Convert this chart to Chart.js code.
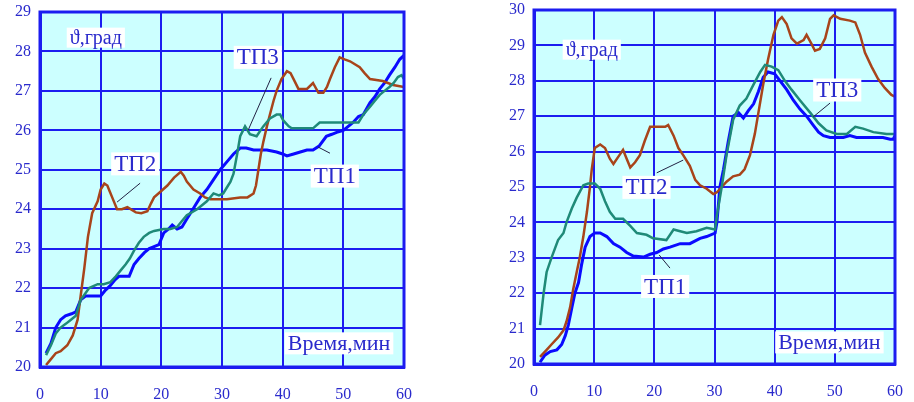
<!DOCTYPE html>
<html>
<head>
<meta charset="utf-8">
<script src="https://cdn.jsdelivr.net/npm/chart.js@4"></script>
<style>
  body { margin: 0; background: #fff; }
  .wrap { position: absolute; top: 0; height: 402px; }
</style>
</head>
<body>
<div class="wrap" style="left:0;width:414px"><canvas id="left"></canvas></div>
<div class="wrap" style="left:494px;width:420px"><canvas id="right"></canvas></div>
<script>
// time (min), temperature (deg) pairs
const left_tp1 = [[1,20.35],[1.8,20.6],[2.6,21.0],[3.4,21.2],[4.2,21.3],[5.2,21.35],[5.9,21.4],[6.7,21.7],[7.5,21.8],[9,21.8],[10,21.8],[10.8,21.95],[11.5,22.05],[12.3,22.2],[13,22.3],[14.7,22.3],[15.5,22.6],[16.3,22.75],[17.2,22.9],[18,23.0],[18.8,23.05],[19.6,23.1],[20.4,23.4],[21.2,23.5],[21.8,23.6],[22.6,23.5],[23.4,23.55],[24.2,23.75],[24.8,23.9],[25.6,24.1],[26.4,24.3],[27.5,24.5],[28.6,24.75],[29.7,25.0],[30.8,25.2],[31.9,25.4],[33,25.55],[34,25.55],[35.2,25.5],[36.3,25.5],[37.4,25.5],[39,25.45],[40,25.4],[40.7,25.35],[41.8,25.4],[42.9,25.45],[44,25.5],[45,25.5],[46,25.6],[47.2,25.85],[48.1,25.9],[48.9,25.95],[50,26.0],[51.6,26.2],[52.5,26.35],[53.3,26.4],[54.4,26.7],[55.2,26.85],[56,27.05],[56.8,27.2],[57.6,27.4],[58.5,27.6],[59.3,27.8],[60,27.9]];
const left_tp2 = [[1,20.05],[1.8,20.2],[2.6,20.35],[3.4,20.4],[4.5,20.55],[5.4,20.8],[6.2,21.2],[6.7,21.8],[7.3,22.5],[7.9,23.3],[8.6,23.9],[9.5,24.2],[10,24.5],[10.6,24.65],[11.1,24.6],[11.5,24.45],[11.9,24.3],[12.7,24.0],[13.5,24.0],[14.4,24.05],[15.8,23.92],[16.7,23.9],[17.7,23.95],[18.3,24.15],[18.8,24.3],[19.9,24.45],[21,24.6],[22.1,24.8],[23.2,24.95],[23.7,24.85],[24.2,24.7],[25.3,24.5],[26.4,24.4],[27.2,24.3],[28.1,24.25],[30.8,24.25],[33,24.3],[34.2,24.3],[35.2,24.4],[35.6,24.6],[36,25.0],[36.4,25.4],[36.8,25.7],[37.4,26.1],[37.9,26.4],[38.5,26.75],[39,27.0],[39.8,27.3],[40.7,27.5],[41.3,27.45],[41.8,27.3],[42.6,27.05],[44,27.05],[45,27.2],[45.9,26.95],[46.7,26.95],[47.3,27.1],[47.8,27.3],[48.6,27.6],[49.4,27.85],[50.2,27.8],[51.1,27.75],[52.7,27.6],[53.5,27.45],[54.4,27.3],[56.5,27.25],[58.2,27.15],[60,27.1]];
const left_tp3 = [[1,20.3],[1.8,20.55],[2.6,20.85],[3.4,21.0],[4.3,21.1],[5.1,21.2],[5.9,21.3],[6.7,21.7],[7.4,21.85],[8.1,22.0],[9.5,22.1],[10.5,22.1],[11.6,22.15],[12.5,22.3],[13.3,22.45],[14.1,22.6],[14.8,22.75],[15.5,22.95],[16.3,23.15],[17.1,23.3],[18,23.4],[18.8,23.45],[20.4,23.5],[21.5,23.5],[22.6,23.55],[23.4,23.7],[24.2,23.85],[25.9,24.0],[27.5,24.2],[28.6,24.4],[29.5,24.35],[30.2,24.4],[30.8,24.55],[31.4,24.7],[31.9,24.9],[32.5,25.4],[33,25.85],[33.8,26.1],[34.6,25.9],[35.7,25.85],[36.8,26.1],[37.9,26.3],[39,26.4],[39.6,26.4],[40.1,26.25],[41,26.1],[41.5,26.05],[43,26.05],[45,26.05],[46.1,26.2],[48,26.2],[50,26.2],[52.5,26.2],[53.3,26.4],[54.4,26.6],[55.2,26.75],[56,26.9],[56.8,27.0],[57.6,27.1],[58.3,27.2],[59,27.35],[59.6,27.4],[60,27.3]];

const right_tp1 = [[1,20.05],[1.8,20.25],[2.7,20.35],[3.8,20.4],[4.6,20.55],[5.2,20.8],[5.7,21.1],[6.3,21.6],[6.8,22.0],[7.4,22.3],[7.9,22.8],[8.5,23.3],[9.3,23.6],[10.1,23.7],[11,23.7],[12.1,23.6],[13.2,23.4],[14.3,23.3],[15.4,23.15],[16.5,23.05],[18.2,23.02],[19.3,23.1],[20.4,23.15],[21.5,23.25],[22.6,23.3],[24.3,23.4],[25.9,23.4],[27.6,23.55],[28.7,23.6],[30.1,23.7],[30.4,24.0],[30.9,25.0],[31.5,25.5],[32.3,26.3],[33.1,27.0],[34,27.1],[34.8,26.95],[35.6,27.15],[36.5,27.35],[37.3,27.7],[38.1,28.1],[38.9,28.25],[40,28.2],[40.9,28.0],[42,27.75],[43.1,27.45],[44.2,27.2],[45.3,27.0],[46.4,26.75],[47.3,26.55],[48.1,26.45],[49.2,26.4],[51.4,26.4],[52.5,26.45],[53.6,26.4],[55.8,26.4],[58,26.4],[59.2,26.35],[59.7,26.35],[60,26.45]];
const right_tp2 = [[1,20.2],[2.1,20.4],[2.9,20.55],[4,20.75],[4.9,20.95],[5.4,21.2],[6,21.6],[6.5,22.1],[7.1,22.6],[7.6,23.0],[8.2,23.6],[8.8,24.3],[9.3,25.0],[9.6,25.5],[10.1,26.1],[11,26.2],[11.8,26.1],[12.6,25.8],[13.2,25.65],[14,25.85],[14.8,26.05],[15.4,25.8],[16,25.55],[16.8,25.7],[17.6,25.9],[18.4,26.3],[19.3,26.7],[20.4,26.7],[21.8,26.7],[22.3,26.75],[23.2,26.45],[24,26.1],[24.8,25.9],[25.9,25.6],[26.8,25.2],[27.6,25.05],[28.7,24.95],[29.8,24.8],[30.4,24.85],[31.2,25.0],[32,25.15],[33.1,25.3],[34.2,25.35],[35,25.5],[35.9,25.9],[36.7,26.5],[37.3,27.1],[38.1,27.9],[38.9,28.6],[39.8,29.3],[40.6,29.7],[41.2,29.8],[42,29.6],[42.8,29.2],[43.7,29.05],[44.8,29.15],[45.3,29.3],[46.1,29.05],[46.7,28.85],[47.5,28.9],[48.4,29.2],[49.2,29.75],[49.8,29.85],[50.9,29.75],[52.5,29.7],[53.4,29.65],[54.2,29.3],[55,28.8],[56.1,28.4],[57.2,28.05],[58.3,27.8],[59.4,27.6],[60,27.55]];
const right_tp3 = [[1,21.1],[1.6,22.0],[2.1,22.6],[2.9,23.0],[4,23.5],[4.9,23.7],[5.4,24.0],[6.3,24.4],[7.1,24.7],[8.2,25.05],[9,25.1],[10.1,25.1],[11,24.95],[11.8,24.6],[12.6,24.3],[13.5,24.1],[14.8,24.1],[16,23.9],[17.1,23.7],[18.7,23.65],[19.8,23.55],[22,23.5],[23.2,23.8],[24.3,23.75],[25.4,23.7],[27,23.75],[28.7,23.85],[30.1,23.8],[30.4,24.2],[31.2,25.0],[32,25.9],[33.1,26.9],[34.2,27.3],[35.3,27.5],[36.5,27.9],[37.6,28.25],[38.4,28.45],[39.5,28.4],[40.6,28.3],[41.7,28.0],[42.8,27.75],[44.2,27.45],[45.9,27.1],[47.3,26.8],[48.6,26.6],[50.3,26.5],[52,26.5],[53.4,26.7],[54.7,26.65],[56.4,26.55],[58.6,26.5],[60,26.5]];

const xTicks = [0, 10, 20, 30, 40, 50, 60];
const yLabel = "ϑ,град";
const xLabel = "Время,мин";

// labels in data coords: [text, x, y, fontSize]
const left_notes = [[yLabel, 9.2, 28.35, 20], ["ТП3", 35.9, 27.85, 23], ["ТП2", 15.7, 25.15, 23], ["ТП1", 48.6, 24.84, 23], [xLabel, 49.3, 20.6, 22]];
const left_leaders = [[38.1, 27.33, 34.3, 26.0], [16.5, 24.66, 12.7, 24.18], [47.8, 25.42, 45.8, 25.58]];
const right_notes = [[yLabel, 9.6, 28.88, 20], ["ТП3", 50.4, 27.74, 23], ["ТП2", 18.7, 24.99, 23], ["ТП1", 21.8, 22.19, 23], [xLabel, 49.1, 20.61, 22]];
const right_leaders = [[49.2, 27.37, 46.4, 26.98], [20.4, 25.4, 24.8, 25.76], [22.6, 22.71, 20.8, 23.08]];

const BLUE_GRID = "#1c1cf0";
const TEXT = "#2a2acc";

function toXY(arr) {
    return arr.map(p => ({x: p[0], y: p[1]}));
}

const notesPlugin = {
    id: "notes",
    afterDatasetsDraw(chart, args, opts) {
        const c = chart.ctx, xs = chart.scales.x, ys = chart.scales.y, a = chart.chartArea;
        c.save();
        // outer frame
        c.strokeStyle = BLUE_GRID;
        c.lineWidth = 3;
        c.strokeRect(a.left, a.top, a.right - a.left, a.bottom - a.top);
        c.strokeStyle = "#222244";
        c.lineWidth = 1;
        opts.leaders.forEach(l => {
            c.beginPath();
            c.moveTo(xs.getPixelForValue(l[0]), ys.getPixelForValue(l[1]));
            c.lineTo(xs.getPixelForValue(l[2]), ys.getPixelForValue(l[3]));
            c.stroke();
        });
        c.textAlign = "center";
        c.textBaseline = "middle";
        opts.notes.forEach(n => {
            c.font = n[3] + "px 'Liberation Serif'";
            const px = xs.getPixelForValue(n[1]), py = ys.getPixelForValue(n[2]);
            const w = c.measureText(n[0]).width + 6, h = n[3];
            c.fillStyle = "#ffffff";
            c.fillRect(px - w / 2, py - h / 2, w, h);
            c.fillStyle = TEXT;
            c.fillText(n[0], px, py + 1);
        });
        c.restore();
    }
};

function makeChart(id, s1, s2, s3, yMax, pad, xh, notes, leaders) {
    new Chart(document.getElementById(id), {
        type: "line",
        data: {
            datasets: [
                {label: "ТП3", data: toXY(s3), borderColor: "#1f8a78", borderWidth: 2.5},
                {label: "ТП2", data: toXY(s2), borderColor: "#a8441a", borderWidth: 2.5},
                {label: "ТП1", data: toXY(s1), borderColor: "#0a0aff", borderWidth: 3}
            ]
        },
        options: {
            responsive: true,
            maintainAspectRatio: false,
            animation: false,
            layout: {padding: pad},
            elements: {point: {radius: 0}, line: {tension: 0}},
            plugins: {legend: {display: false}, tooltip: {enabled: false}, notes: {notes: notes, leaders: leaders}},
            scales: {
                x: {
                    type: "linear", min: 0, max: 60,
                    afterBuildTicks: s => { s.ticks = xTicks.map(v => ({value: v})); },
                    afterFit: s => { s.height = xh; s.paddingLeft = 0; s.paddingRight = 0; },
                    grid: {color: BLUE_GRID, lineWidth: 2, drawTicks: false},
                    border: {color: BLUE_GRID, width: 3},
                    ticks: {color: TEXT, padding: 18, maxRotation: 0, font: {family: "Liberation Serif", size: 16}}
                },
                y: {
                    min: 20, max: yMax,
                    afterFit: s => { s.width = 40; s.paddingTop = 0; s.paddingBottom = 0; },
                    grid: {color: BLUE_GRID, lineWidth: 2, drawTicks: false},
                    border: {color: BLUE_GRID, width: 3},
                    ticks: {color: TEXT, padding: 9, stepSize: 1, font: {family: "Liberation Serif", size: 16}}
                }
            }
        },
        plugins: [{
            id: "bg",
            beforeDraw(chart) {
                const a = chart.chartArea, c = chart.ctx;
                c.save();
                c.fillStyle = "#ccffff";
                c.fillRect(a.left, a.top, a.right - a.left, a.bottom - a.top);
                c.restore();
            }
        }, notesPlugin]
    });
}

makeChart("left", left_tp1, left_tp2, left_tp3, 29, {top: 12, right: 10, left: 0, bottom: 0}, 35, left_notes, left_leaders);
makeChart("right", right_tp1, right_tp2, right_tp3, 30, {top: 10, right: 19, left: 0, bottom: 0}, 38, right_notes, right_leaders);
</script>
</body>
</html>
